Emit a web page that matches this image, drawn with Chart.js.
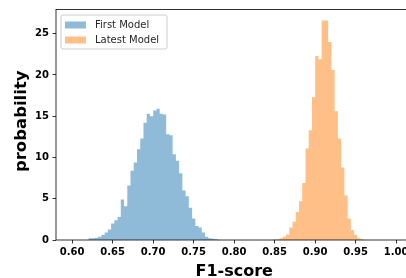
<!DOCTYPE html>
<html><head><meta charset="utf-8">
<script src="https://cdn.jsdelivr.net/npm/chart.js@4/dist/chart.umd.min.js"></script>
<style>
html,body{margin:0;padding:0;overflow:hidden;background:#fff;width:406px;height:278px}
#wrap{width:406px;height:278px;overflow:hidden;position:relative}
canvas{display:block}
</style></head>
<body><div id="wrap"><canvas id="c" width="420" height="278" style="width:420px;height:278px"></canvas></div>
<script>
// ---- data ----
const seriesNames = ['First Model', 'Latest Model'];
const binWidth = 0.004;
const firstModelBinStart = 0.620;
const firstModelDensity = [0.2,0.2,0.28,0.4,0.6,0.92,1.28,2.0,2.4,2.8,
  4.9,4.1,6.6,8.4,9.4,11.0,12.3,14.2,15.3,15.0,
  15.7,15.9,15.3,15.2,12.8,12.7,10.4,9.6,8.1,6.0,
  5.3,3.9,2.6,1.7,1.5,0.9,0.4,0.2,0.15,0.1];
const latestModelBinStart = 0.848;
const latestModelDensity = [0.05,0.1,0.2,0.4,0.68,1.5,2.2,3.4,4.7,6.9,
  11.1,13.3,17.3,22.3,21.9,26.6,26.6,24.0,20.6,15.6,
  12.3,8.8,5.4,2.6,1.2,0.6,0.2,0.1];
const xTicks = [0.60,0.65,0.70,0.75,0.80,0.85,0.90,0.95,1.00];
const yTicks = [0,5,10,15,20,25];
const xLabel = 'F1-score';
const yLabel = 'probability';

// ---- styling ----
const colors = ['rgba(31,119,180,0.5)', 'rgba(255,127,14,0.5)'];
const FONT = '"DejaVu Sans", sans-serif';

function histPoints(start, vals) {
  const pts = vals.map((v, i) => ({x: start + i * binWidth, y: v}));
  pts.push({x: start + vals.length * binWidth, y: 0});
  return pts;
}

const framePlugin = {
  id: 'frame',
  afterDatasetsDraw(chart) {
    const {ctx, chartArea: a} = chart;
    ctx.save();
    ctx.strokeStyle = '#000';
    ctx.lineWidth = 0.8;
    ctx.strokeRect(a.left, a.top, a.right - a.left, a.bottom - a.top);
    // y-axis title
    ctx.save();
    ctx.translate(21.6, (a.top + a.bottom) / 2 - 3.5);
    ctx.rotate(-Math.PI / 2);
    ctx.font = 'bold 16.5px ' + FONT;
    ctx.fillStyle = '#000';
    ctx.textAlign = 'center';
    ctx.textBaseline = 'middle';
    ctx.fillText(yLabel, 0, 0);
    ctx.restore();
    // legend
    const lx = a.left + 5, ly = a.top + 5.5, lw = 106, lh = 34, r = 2;
    ctx.beginPath();
    ctx.moveTo(lx + r, ly);
    ctx.lineTo(lx + lw - r, ly); ctx.arcTo(lx + lw, ly, lx + lw, ly + r, r);
    ctx.lineTo(lx + lw, ly + lh - r); ctx.arcTo(lx + lw, ly + lh, lx + lw - r, ly + lh, r);
    ctx.lineTo(lx + r, ly + lh); ctx.arcTo(lx, ly + lh, lx, ly + lh - r, r);
    ctx.lineTo(lx, ly + r); ctx.arcTo(lx, ly, lx + r, ly, r);
    ctx.closePath();
    ctx.fillStyle = 'rgba(255,255,255,0.8)';
    ctx.fill();
    ctx.strokeStyle = '#cccccc';
    ctx.lineWidth = 1;
    ctx.stroke();
    ctx.font = '10px ' + FONT;
    ctx.textBaseline = 'middle';
    ctx.textAlign = 'left';
    chart.data.datasets.forEach((ds, i) => {
      const cy = ly + 10 + i * 15;
      ctx.fillStyle = ds.backgroundColor;
      ctx.fillRect(lx + 4, cy - 3.5, 21, 7);
      ctx.fillStyle = '#262626';
      ctx.fillText(ds.label, lx + 34, cy);
    });
    ctx.restore();
  }
};

new Chart(document.getElementById('c'), {
  type: 'line',
  data: {
    datasets: [
      {label: seriesNames[0], data: histPoints(firstModelBinStart, firstModelDensity),
       backgroundColor: colors[0], borderColor: 'transparent', borderWidth: 0,
       fill: 'origin', stepped: 'before', pointRadius: 0, tension: 0},
      {label: seriesNames[1], data: histPoints(latestModelBinStart, latestModelDensity),
       backgroundColor: colors[1], borderColor: 'transparent', borderWidth: 0,
       fill: 'origin', stepped: 'before', pointRadius: 0, tension: 0}
    ]
  },
  options: {
    responsive: false,
    animation: false,
    events: [],
    layout: {padding: {top: 7.3, right: 7.6, left: 0, bottom: 0}},
    plugins: {legend: {display: false}, tooltip: {enabled: false}},
    scales: {
      x: {
        type: 'linear', min: 0.58, max: 1.02,
        afterBuildTicks: s => { s.ticks = xTicks.map(v => ({value: v})); },
        afterFit: s => { s.height = 38; },
        grid: {display: true, drawOnChartArea: false, drawTicks: true, tickLength: 3.5, color: '#000', lineWidth: 0.8},
        border: {display: false},
        ticks: {padding: 3, color: '#000', font: {family: FONT, size: 10, weight: 'bold'},
                maxRotation: 0, autoSkip: false, callback: v => Number(v).toFixed(2)},
        title: {display: true, text: xLabel, color: '#000',
                font: {family: FONT, size: 16, weight: 'bold', lineHeight: 1.2},
                padding: {top: 0, bottom: -3}}
      },
      y: {
        type: 'linear', min: 0, max: 27.93,
        afterBuildTicks: s => { s.ticks = yTicks.map(v => ({value: v})); },
        afterFit: s => { s.width = 56; },
        grid: {display: true, drawOnChartArea: false, drawTicks: true, tickLength: 3.5, color: '#000', lineWidth: 0.8},
        border: {display: false},
        ticks: {padding: 3.5, color: '#000', font: {family: FONT, size: 10, weight: 'bold'},
                callback: v => String(v)},
        title: {display: false}
      }
    }
  },
  plugins: [framePlugin]
});
</script>
</body></html>
